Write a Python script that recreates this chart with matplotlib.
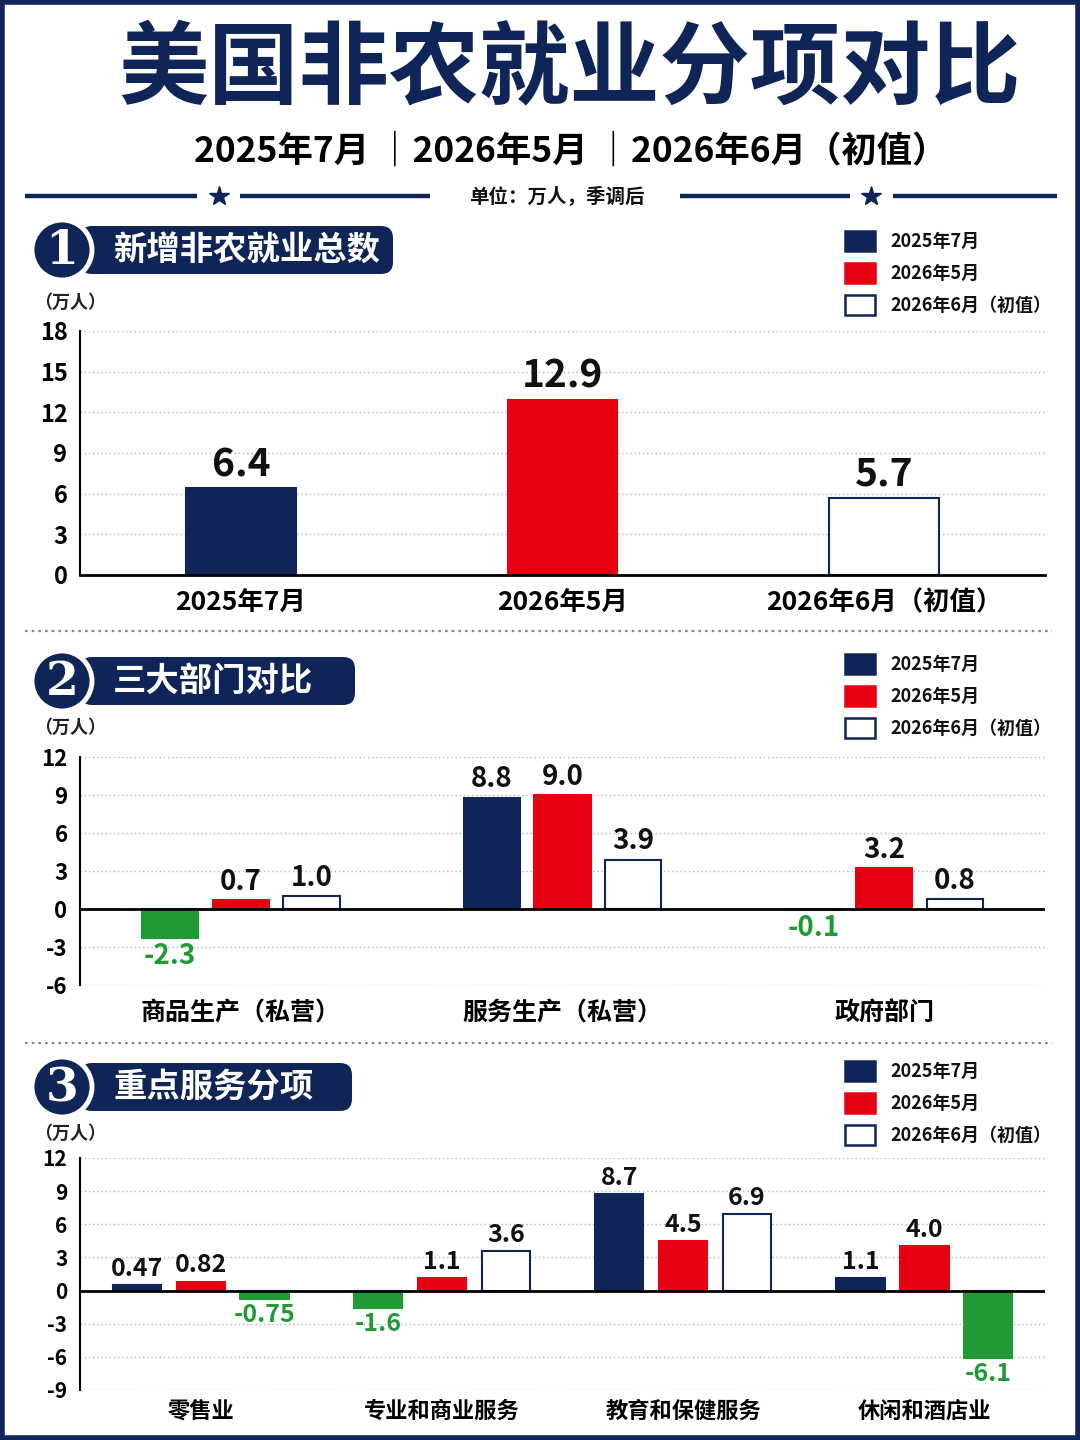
import matplotlib
matplotlib.use("Agg")
import matplotlib.pyplot as plt
from matplotlib.patches import Rectangle, Circle, FancyBboxPatch
import numpy as np

plt.rcParams['font.family'] = ['Noto Sans CJK SC', 'DejaVu Sans']
plt.rcParams['axes.unicode_minus'] = False

# data
series = ['2025年7月', '2026年5月', '2026年6月（初值）']

total_cats = ['2025年7月', '2026年5月', '2026年6月（初值）']
total_vals = [6.4, 12.9, 5.7]

sector_cats = ['商品生产（私营）', '服务生产（私营）', '政府部门']
sector_jul25 = [-2.3, 8.8, -0.1]
sector_may26 = [0.7, 9.0, 3.2]
sector_jun26 = [1.0, 3.9, 0.8]

svc_cats = ['零售业', '专业和商业服务', '教育和保健服务', '休闲和酒店业']
svc_jul25 = [0.47, -1.6, 8.7, 1.1]
svc_may26 = [0.82, 1.1, 4.5, 4.0]
svc_jun26 = [-0.75, 3.6, 6.9, -6.1]

NAVY = '#0f2557'
RED = '#e60012'
GREEN = '#1f9a35'
GRID = '#b5b5b5'
W, H = 1080, 1440


def fmt(v):
    if round(v, 1) != v:
        return f"{v:.2f}"
    return f"{v:.1f}"


def frac(l, t, r, b):
    return [l / W, 1 - b / H, (r - l) / W, (b - t) / H]


fig = plt.figure(figsize=(10.8, 14.4), dpi=100)
fig.patch.set_facecolor('white')

# decoration layer in pixel coordinates
bg = fig.add_axes([0, 0, 1, 1], zorder=0)
bg.set_xlim(0, W)
bg.set_ylim(H, 0)
bg.axis('off')

bg.add_patch(Rectangle((2, 2), W - 4, H - 4, fill=False, ec=NAVY, lw=4))

bg.text(570, 70, '美国非农就业分项对比', ha='center', va='center',
        fontsize=65, fontweight='heavy', color=NAVY)
bg.text(571, 151, '2025年7月 ｜2026年5月 ｜2026年6月（初值）', ha='center',
        va='center', fontsize=25.5, fontweight='bold', color='black')

for x0, x1 in [(25, 197), (240, 430), (680, 850), (893, 1057)]:
    bg.plot([x0, x1], [196, 196], color=NAVY, lw=3.2, solid_capstyle='butt')
bg.plot([219, 871], [196, 196], ls='none', marker='*', ms=15, color=NAVY)
bg.text(557, 196, '单位：万人，季调后', ha='center', va='center',
        fontsize=14, fontweight='bold', color='#111111')

for y in [631, 1043]:
    bg.plot([25, 1052], [y, y], color='#888888', ls=(0, (1.2, 1.8)), lw=1.6)

headers = [('1', '新增非农就业总数', 250, 393),
           ('2', '三大部门对比', 681, 355),
           ('3', '重点服务分项', 1087, 352)]
for num, title, cy, rx in headers:
    bg.add_patch(FancyBboxPatch((80, cy - 24), rx - 80, 48,
                                boxstyle='round,pad=0,rounding_size=12',
                                fc=NAVY, ec='none'))
    bg.add_patch(Circle((62, cy), 30, fc=NAVY, ec='white', lw=3.5, zorder=3))
    bg.text(62, cy + 1, num, ha='center', va='center', fontsize=34,
            fontweight='bold', color='white', family='DejaVu Serif', zorder=4)
    bg.text(113, cy, title, ha='left', va='center', fontsize=24,
            fontweight='bold', color='white')

for ly in [302, 727, 1133]:
    bg.text(34, ly, '（万人）', ha='left', va='center', fontsize=13,
            fontweight='bold', color='#222222')

legend_style = [dict(fc=NAVY, ec=NAVY), dict(fc=RED, ec=RED),
                dict(fc='white', ec=NAVY)]
for top in [241, 664, 1071]:
    for i, name in enumerate(series):
        yy = top + i * 32
        bg.add_patch(Rectangle((845, yy - 10), 30, 20, lw=1.8, **legend_style[i]))
        bg.text(890, yy, name, ha='left', va='center', fontsize=13,
                fontweight='bold', color='#111111')


def style_axes(ax, ylim, ticks, tick_fs):
    ax.set_facecolor('none')
    ax.set_ylim(*ylim)
    ax.set_yticks(ticks)
    ax.set_yticklabels([str(t) for t in ticks], fontsize=tick_fs,
                       fontweight='bold')
    ax.yaxis.grid(True, color=GRID, ls=(0, (1, 2)), lw=1)
    ax.set_axisbelow(True)
    ax.tick_params(axis='both', length=0)
    ax.tick_params(axis='y', pad=9)
    for s in ['top', 'right']:
        ax.spines[s].set_visible(False)
    ax.spines['left'].set_linewidth(1.5)


def label_bar(ax, x, v, fs, off):
    if v >= 0:
        ax.annotate(fmt(v), (x, v), xytext=(0, off), textcoords='offset points',
                    ha='center', va='bottom', fontsize=fs, fontweight='bold',
                    color='#111111')
    else:
        ax.annotate(fmt(v), (x, v), xytext=(0, -off), textcoords='offset points',
                    ha='center', va='top', fontsize=fs, fontweight='bold',
                    color=GREEN)


# panel 1
ax1 = fig.add_axes(frac(80, 331, 1045, 575), zorder=2)
style_axes(ax1, (0, 18), [0, 3, 6, 9, 12, 15, 18], 17)
ax1.spines['bottom'].set_linewidth(2)
x1 = np.arange(len(total_cats))
cols1 = [NAVY, RED, 'white']
edges1 = [NAVY, RED, NAVY]
ax1.bar(x1, total_vals, width=0.34, color=cols1, edgecolor=edges1, lw=1.5)
for x, v in zip(x1, total_vals):
    label_bar(ax1, x, v, 28, 3)
ax1.set_xlim(-0.5, 2.5)
ax1.set_xticks(x1)
ax1.set_xticklabels(total_cats, fontsize=19, fontweight='bold')
ax1.tick_params(axis='x', pad=10)


def grouped(ax, cats, vals_list, width, step, fs):
    x = np.arange(len(cats))
    face = [NAVY, RED, 'white']
    edge = [NAVY, RED, NAVY]
    for i, vals in enumerate(vals_list):
        xs = x + (i - 1) * step
        fc = [GREEN if v < 0 else face[i] for v in vals]
        ec = [GREEN if v < 0 else edge[i] for v in vals]
        ax.bar(xs, vals, width=width, color=fc, edgecolor=ec, lw=1.5, zorder=2)
        for xx, v in zip(xs, vals):
            label_bar(ax, xx, v, fs, 3)
    ax.axhline(0, color='black', lw=2, zorder=3)
    ax.spines['bottom'].set_visible(False)
    ax.set_xlim(-0.5, len(cats) - 0.5)
    ax.set_xticks(x)
    ax.set_xticklabels(cats, fontweight='bold')


# panel 2
ax2 = fig.add_axes(frac(80, 757, 1045, 985), zorder=2)
style_axes(ax2, (-6, 12), [-6, -3, 0, 3, 6, 9, 12], 16)
grouped(ax2, sector_cats, [sector_jul25, sector_may26, sector_jun26],
        0.175, 0.22, 20)
for t in ax2.get_xticklabels():
    t.set_fontsize(18)
ax2.tick_params(axis='x', pad=12)

# panel 3
ax3 = fig.add_axes(frac(80, 1158, 1045, 1390), zorder=2)
style_axes(ax3, (-9, 12), [-9, -6, -3, 0, 3, 6, 9, 12], 15)
grouped(ax3, svc_cats, [svc_jul25, svc_may26, svc_jun26], 0.2, 0.265, 18)
for t in ax3.get_xticklabels():
    t.set_fontsize(16)
ax3.tick_params(axis='x', pad=7)

fig.savefig('out.png', dpi=100, facecolor='white')
